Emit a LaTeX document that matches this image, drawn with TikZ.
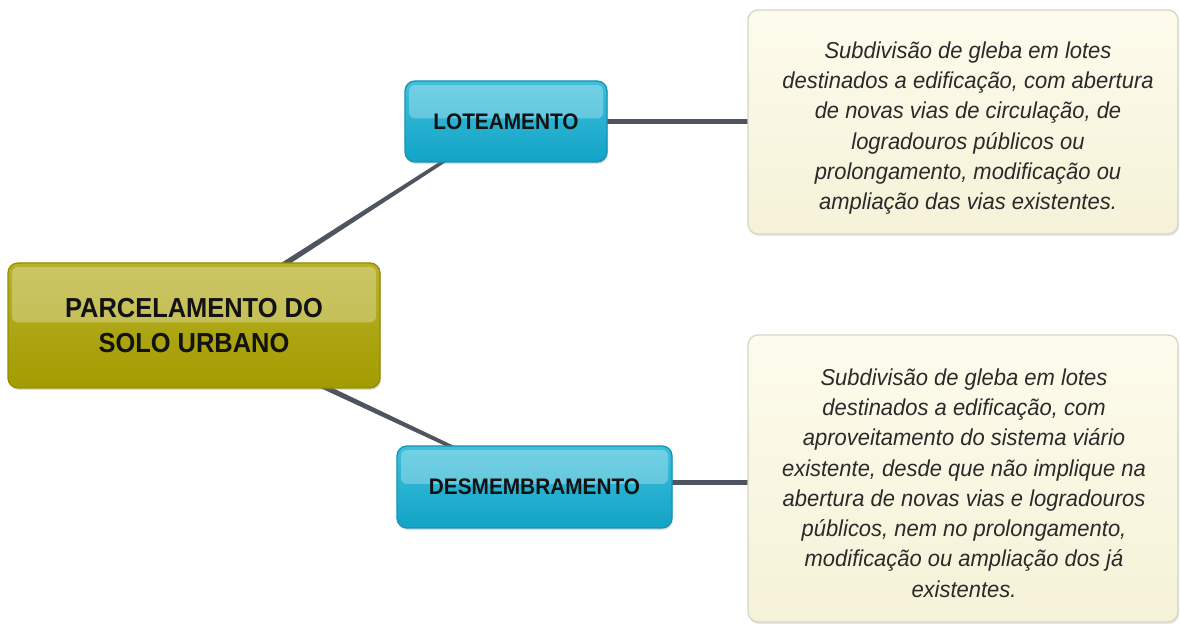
\documentclass[tikz,border=0pt]{standalone}
\usepackage{fontspec}
\setmainfont{Liberation Sans}
\newfontfamily\labelfont[FakeStretch=0.925]{Liberation Sans}
\newfontfamily\bodyfont[FakeStretch=0.955]{Liberation Sans}
\usetikzlibrary{calc,backgrounds,shadows}
\definecolor{olvtop}{HTML}{B8B12A}
\definecolor{olvbase}{HTML}{A39C00}
\definecolor{olvline}{HTML}{948E00}
\definecolor{cyntop}{HTML}{3EC0DC}
\definecolor{cynbase}{HTML}{12A3C6}
\definecolor{cynline}{HTML}{1592B6}
\definecolor{creamtop}{HTML}{FDFBEC}
\definecolor{creambot}{HTML}{F5F2D8}
\definecolor{creamline}{HTML}{D6D6C6}
\definecolor{wire}{HTML}{4F5560}
\definecolor{labeltext}{HTML}{121212}
\definecolor{bodytext}{HTML}{2A2A2A}
\tikzset{
  gloss/.style={path picture={\fill[white,opacity=.28,rounded corners=6pt]
     ([xshift=4pt,yshift=-4pt]path picture bounding box.north west) rectangle
     ([xshift=-4pt,yshift=3pt]path picture bounding box.east);}},
  mainbox/.style={rounded corners=10pt, draw=olvline, line width=1.3pt,
     top color=olvtop, bottom color=olvbase, minimum width=372pt, minimum height=125pt,
     align=center, text=labeltext, font=\labelfont\fontsize{27.5}{34.5}\selectfont\bfseries,
     drop shadow={opacity=.25,shadow xshift=1pt,shadow yshift=-2pt}, gloss},
  subbox/.style={rounded corners=10pt, draw=cynline, line width=1.3pt,
     top color=cyntop, bottom color=cynbase, minimum height=81pt,
     align=center, text=labeltext, font=\labelfont\fontsize{22.5}{26}\selectfont\bfseries,
     drop shadow={opacity=.25,shadow xshift=1pt,shadow yshift=-2pt}, gloss},
  notebox/.style={rounded corners=10pt, draw=creamline, line width=1.3pt,
     top color=creamtop, bottom color=creambot, minimum width=430pt,
     drop shadow={opacity=.18,shadow xshift=1pt,shadow yshift=-2pt}},
  notetext/.style={align=center, text=bodytext, font=\bodyfont\fontsize{23}{30.3}\selectfont\itshape},
  wireline/.style={draw=wire, line width=5pt},
}
\begin{document}
\begin{tikzpicture}[x=1pt,y=1pt]
\useasboundingbox (0,0) rectangle (1180,626);

\node[mainbox] (root) at (194,300.5) {PARCELAMENTO DO\\SOLO URBANO};
\node[subbox, minimum width=202pt] (lot) at (506,504.5) {LOTEAMENTO};
\node[subbox, minimum width=275pt, minimum height=82pt] (des) at (534.5,139) {DESMEMBRAMENTO};
\node[notebox, minimum height=224pt] (top) at (963,504) {};
\node[notebox, minimum height=287pt] (bot) at (963,147.5) {};
\node[notetext] (toptext) at (968,498) {Subdivisão de gleba em lotes\\destinados a edificação, com abertura\\de novas vias de circulação, de\\logradouros públicos ou\\prolongamento, modificação ou\\ampliação das vias existentes.};
\node[notetext] (bottext) at (964,143) {Subdivisão de gleba em lotes\\destinados a edificação, com\\aproveitamento do sistema viário\\existente, desde que não implique na\\abertura de novas vias e logradouros\\públicos, nem no prolongamento,\\modificação ou ampliação dos já\\existentes.};

\begin{scope}[on background layer]
  \fill[white] (0,0) rectangle (1180,626);
  \coordinate (a1) at ($(root.north)+(42,-33)$);
  \coordinate (b1) at ($(lot.south)+(-38,17)$);
  \fill[wire] ($(a1)!3pt!90:(b1)$) -- ($(b1)!1.6pt!-90:(a1)$) -- ($(b1)!1.6pt!90:(a1)$) -- ($(a1)!3pt!-90:(b1)$) -- cycle;
  \coordinate (a2) at ($(root.south)+(66,32)$);
  \coordinate (b2) at ($(des.north)+(-43.5,-20)$);
  \fill[wire] ($(a2)!3pt!90:(b2)$) -- ($(b2)!1.6pt!-90:(a2)$) -- ($(b2)!1.6pt!90:(a2)$) -- ($(a2)!3pt!-90:(b2)$) -- cycle;
  \draw[wireline] ($(lot.east)+(-8,0)$) -- ($(lot.east -| top.west)+(8,0)$);
  \draw[wireline] ($(des.east)+(-8,4)$) -- ($(des.east -| bot.west)+(8,4)$);
\end{scope}
\end{tikzpicture}
\end{document}
